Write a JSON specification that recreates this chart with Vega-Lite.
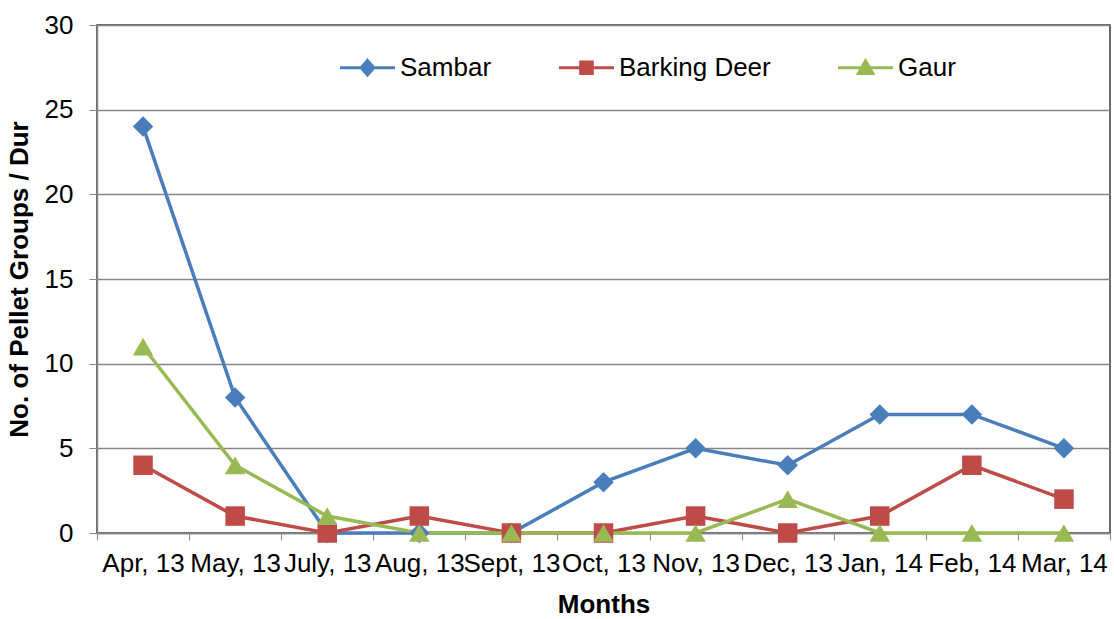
{
  "$schema": "https://vega.github.io/schema/vega-lite/v6.json",
  "width": 1013,
  "height": 508,
  "autosize": "none",
  "padding": {"left": 97, "top": 25, "right": 4, "bottom": 86},
  "background": "white",
  "config": {
    "font": "Liberation Sans",
    "view": {"stroke": "#3a3a3a", "strokeWidth": 1.5}
  },
  "data": {
    "values": [
      {"month": "Apr, 13", "series": "Sambar", "value": 24},
      {"month": "May, 13", "series": "Sambar", "value": 8},
      {"month": "July, 13", "series": "Sambar", "value": 0},
      {"month": "Aug, 13", "series": "Sambar", "value": 0},
      {"month": "Sept, 13", "series": "Sambar", "value": 0},
      {"month": "Oct, 13", "series": "Sambar", "value": 3},
      {"month": "Nov, 13", "series": "Sambar", "value": 5},
      {"month": "Dec, 13", "series": "Sambar", "value": 4},
      {"month": "Jan, 14", "series": "Sambar", "value": 7},
      {"month": "Feb, 14", "series": "Sambar", "value": 7},
      {"month": "Mar, 14", "series": "Sambar", "value": 5},
      {"month": "Apr, 13", "series": "Barking Deer", "value": 4},
      {"month": "May, 13", "series": "Barking Deer", "value": 1},
      {"month": "July, 13", "series": "Barking Deer", "value": 0},
      {"month": "Aug, 13", "series": "Barking Deer", "value": 1},
      {"month": "Sept, 13", "series": "Barking Deer", "value": 0},
      {"month": "Oct, 13", "series": "Barking Deer", "value": 0},
      {"month": "Nov, 13", "series": "Barking Deer", "value": 1},
      {"month": "Dec, 13", "series": "Barking Deer", "value": 0},
      {"month": "Jan, 14", "series": "Barking Deer", "value": 1},
      {"month": "Feb, 14", "series": "Barking Deer", "value": 4},
      {"month": "Mar, 14", "series": "Barking Deer", "value": 2},
      {"month": "Apr, 13", "series": "Gaur", "value": 11},
      {"month": "May, 13", "series": "Gaur", "value": 4},
      {"month": "July, 13", "series": "Gaur", "value": 1},
      {"month": "Aug, 13", "series": "Gaur", "value": 0},
      {"month": "Sept, 13", "series": "Gaur", "value": 0},
      {"month": "Oct, 13", "series": "Gaur", "value": 0},
      {"month": "Nov, 13", "series": "Gaur", "value": 0},
      {"month": "Dec, 13", "series": "Gaur", "value": 2},
      {"month": "Jan, 14", "series": "Gaur", "value": 0},
      {"month": "Feb, 14", "series": "Gaur", "value": 0},
      {"month": "Mar, 14", "series": "Gaur", "value": 0}
    ]
  },
  "encoding": {
    "x": {
      "field": "month",
      "type": "ordinal",
      "sort": ["Apr, 13", "May, 13", "July, 13", "Aug, 13", "Sept, 13", "Oct, 13", "Nov, 13", "Dec, 13", "Jan, 14", "Feb, 14", "Mar, 14"],
      "scale": {"paddingInner": 0, "paddingOuter": 0},
      "axis": {
        "title": "Months",
        "titleFontSize": 26,
        "titleFontWeight": "bold",
        "titleColor": "black",
        "titlePadding": 15,
        "labelAngle": 0,
        "labelFontSize": 26,
        "labelColor": "black",
        "labelPadding": 10,
        "labelOverlap": false,
        "labelBound": false,
        "labelFlush": false,
        "tickBand": "extent",
        "tickSize": 7,
        "tickColor": "#868686",
        "domainColor": "#868686",
        "domainWidth": 1.5,
        "grid": false
      }
    },
    "y": {
      "field": "value",
      "type": "quantitative",
      "scale": {"domain": [0, 30], "nice": false},
      "axis": {
        "title": "No. of Pellet Groups / Dur",
        "titleFontSize": 26,
        "titleFontWeight": "bold",
        "titleColor": "black",
        "titlePadding": 12,
        "values": [0, 5, 10, 15, 20, 25, 30],
        "labelFontSize": 26,
        "labelColor": "black",
        "labelPadding": 16,
        "tickSize": 8,
        "tickColor": "#868686",
        "domainColor": "#868686",
        "domainWidth": 1.5,
        "grid": true,
        "gridColor": "#868686",
        "gridWidth": 1.3
      }
    },
    "color": {
      "field": "series",
      "type": "nominal",
      "sort": ["Sambar", "Barking Deer", "Gaur"],
      "scale": {"domain": ["Sambar", "Barking Deer", "Gaur"], "range": ["#4A7EBB", "#BE4B48", "#98B954"]},
      "legend": {
        "title": null,
        "orient": "none",
        "direction": "horizontal",
        "legendX": 240,
        "legendY": 12,
        "labelFontSize": 26,
        "labelColor": "black",
        "labelOffset": 2,
        "columnPadding": 60,
        "symbolSize": 3364,
        "symbolStrokeWidth": 3,
        "symbolOpacity": 1,
        "encode": {
          "symbols": {
            "update": {
              "shape": {"signal": "datum.value === 'Sambar' ? 'M-0.95,0H0.95M0,-0.25L0.22,0L0,0.25L-0.22,0Z' : datum.value === 'Barking Deer' ? 'M-0.95,0H0.95M-0.2,-0.2H0.2V0.2H-0.2Z' : 'M-0.95,0H0.95M0,-0.24L0.25,0.2H-0.25Z'"},
              "fill": {"signal": "datum.value === 'Sambar' ? '#4A7EBB' : datum.value === 'Barking Deer' ? '#BE4B48' : '#98B954'"},
              "stroke": {"signal": "datum.value === 'Sambar' ? '#4A7EBB' : datum.value === 'Barking Deer' ? '#BE4B48' : '#98B954'"},
              "strokeWidth": {"value": 3}
            }
          }
        }
      }
    }
  },
  "layer": [
    {
      "mark": {"type": "line", "strokeWidth": 3.5}
    },
    {
      "transform": [{"filter": "datum.series === 'Sambar'"}],
      "mark": {"type": "point", "filled": true, "opacity": 1, "size": 420, "shape": "diamond"}
    },
    {
      "transform": [{"filter": "datum.series === 'Barking Deer'"}],
      "mark": {"type": "point", "filled": true, "opacity": 1, "size": 380, "shape": "square"}
    },
    {
      "transform": [{"filter": "datum.series === 'Gaur'"}],
      "mark": {"type": "point", "filled": true, "opacity": 1, "size": 420, "shape": "triangle-up"}
    }
  ]
}
